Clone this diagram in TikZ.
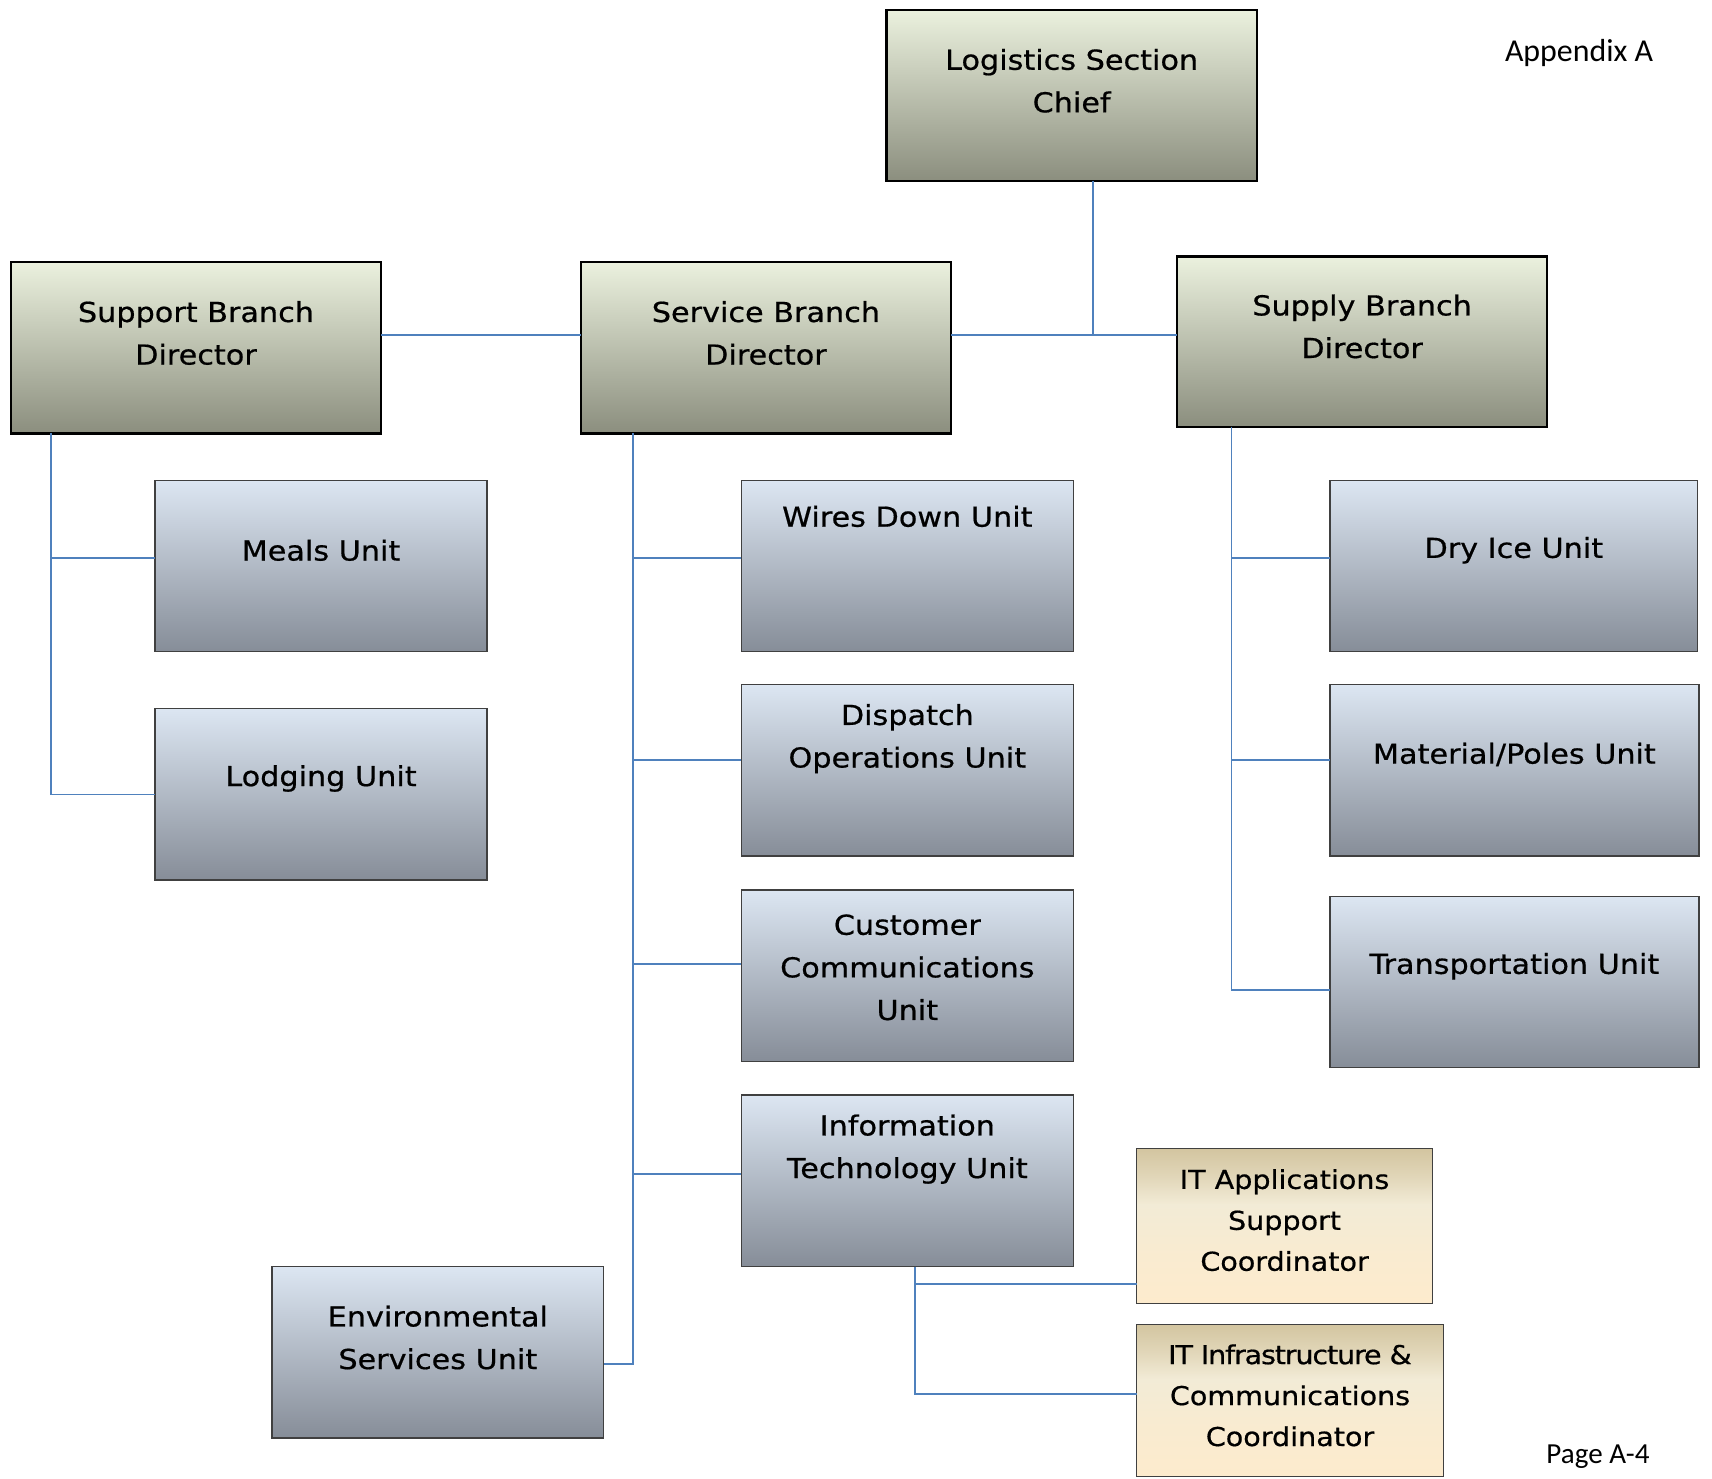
\documentclass[tikz,border=0pt]{standalone}
\usepackage{fontspec}
\setmainfont{DejaVu Sans}[FakeBold=0.6, FakeStretch=1.1]
\newfontfamily\notefont{Carlito}
\definecolor{linkblue}{HTML}{4F81BD}
\definecolor{headtop}{HTML}{EBF1DE}
\definecolor{headbot}{HTML}{8B8E7E}
\definecolor{unittop}{HTML}{DCE6F2}
\definecolor{unitbot}{HTML}{868D98}
\definecolor{coordtop}{HTML}{D3C5A0}
\definecolor{coordmid}{HTML}{F2EBD6}
\definecolor{coordbot}{HTML}{FDEBCD}
\definecolor{unitedge}{HTML}{404040}
% tan fill of the coordinator boxes: dark at the top, light from a third down
\pgfdeclareverticalshading{coordshade}{100bp}{color(0bp)=(coordbot); color(25bp)=(coordbot); color(42bp)=(coordbot!60!coordmid); color(57bp)=(coordmid); color(66bp)=(coordtop!55!coordmid); color(75bp)=(coordtop); color(100bp)=(coordtop)}
\tikzset{
  headbox/.style={rectangle, inner sep=0pt, outer sep=0pt, draw=black, line width=1pt,
    top color=headtop, bottom color=headbot, minimum width=169.5pt, minimum height=78.5pt},
  unitbox/.style={rectangle, inner sep=0pt, outer sep=0pt, draw=unitedge, line width=0.6pt,
    top color=unittop, bottom color=unitbot, minimum width=152pt, minimum height=78.5pt},
  coordbox/.style={rectangle, inner sep=0pt, outer sep=0pt, draw=unitedge, line width=0.6pt,
    shading=coordshade},
  boxtext/.style={align=center, font=\fontsize{12.6}{19.5}\selectfont, inner sep=0pt},
  coordtext/.style={align=center, font=\fontsize{11.9}{18.75}\selectfont, inner sep=0pt},
  link/.style={draw=linkblue, line width=0.75pt},
}
\begin{document}
\begin{tikzpicture}[x=0.5pt, y=-0.5pt]
\useasboundingbox[fill=white] (0,0) rectangle (1568,1354);

% top level
\node[headbox] (chief) at (981.5,87.5) {};
\node[boxtext] (chiefT) at (981.5,74) {Logistics Section\\Chief};

% branch directors
\node[headbox] (support) at (179.5,318.5) {};
\node[boxtext] (supportT) at (179.5,305) {Support Branch\\Director};
\node[headbox] (service) at (701.5,318.5) {};
\node[boxtext] (serviceT) at (701.5,305) {Service Branch\\Director};
\node[headbox, minimum height=78pt] (supply) at (1247.5,313) {};
\node[boxtext] (supplyT) at (1247.5,299) {Supply Branch\\Director};

% support branch units
\node[unitbox] (meals) at (294,518.5) {};
\node[boxtext] (mealsT) at (294,504) {Meals Unit};
\node[unitbox] (lodging) at (294,727.5) {};
\node[boxtext] (lodgingT) at (294,713) {Lodging Unit};

% service branch units
\node[unitbox] (wires) at (831,518.5) {};
\node[boxtext] (wiresT) at (831,473) {Wires Down Unit};
\node[unitbox] (dispatch) at (831,705.5) {};
\node[boxtext] (dispatchT) at (831,676.5) {Dispatch\\Operations Unit};
\node[unitbox] (customer) at (831,893.5) {};
\node[boxtext] (customerT) at (831,886) {Customer\\Communications\\Unit};
\node[unitbox] (infotech) at (831,1081.5) {};
\node[boxtext] (infotechT) at (831,1052.5) {Information\\Technology Unit};
\node[unitbox] (environ) at (401,1238.5) {};
\node[boxtext] (environT) at (401,1225) {Environmental\\Services Unit};

% supply branch units
\node[unitbox, minimum width=168.5pt] (dryice) at (1386.5,518.5) {};
\node[boxtext] (dryiceT) at (1386.5,504) {Dry Ice Unit};
\node[unitbox, minimum width=169pt] (material) at (1387,705.5) {};
\node[boxtext] (materialT) at (1387,691) {Material/Poles Unit};
\node[unitbox, minimum width=169pt] (transport) at (1387,899.5) {};
\node[boxtext] (transportT) at (1387,885) {Transportation Unit};

% IT coordinators
\node[coordbox, minimum width=135.5pt, minimum height=71pt] (itapps) at (1176.5,1123) {};
\node[coordtext] (itappsT) at (1176.5,1117.5) {IT Applications\\Support\\Coordinator};
\node[coordbox, minimum width=140.5pt, minimum height=69.5pt] (itinfra) at (1181.5,1282.5) {};
\node[coordtext] (itinfraT) at (1181.5,1278) {{\addfontfeature{LetterSpace=-4.4}IT Infrastructure \&}\\Communications\\Coordinator};

% page notes
\node[font=\notefont\fontsize{14.6}{16}\selectfont, anchor=base west, inner sep=0pt] (appx) at (1378,56.5) {Appendix A};
\node[font=\notefont\fontsize{13.3}{16}\selectfont, anchor=base west, inner sep=0pt] (pageno) at (1416,1340) {Page A-4};

% connectors: chief to branch bus
\coordinate (bus) at ([xshift=9.75pt, yshift=5.75pt]service.east -| chief.south);
\draw[link] (chief.south -| bus) -- (bus);
\draw[link] ([yshift=5.75pt]support.east) -- ([yshift=5.75pt]service.west);
\draw[link] ([yshift=5.75pt]service.east) -- ([yshift=3pt]supply.west);

% support branch
\coordinate (sspine) at ([xshift=18.5pt]support.south west);
\draw[link] (sspine) |- ([yshift=3.75pt]meals.west);
\draw[link] (sspine) |- (lodging.west);

% service branch
\coordinate (vspine) at ([xshift=24pt]service.south west);
\draw[link] (vspine) |- ([yshift=3.75pt]wires.west);
\draw[link] (vspine) |- ([yshift=4.75pt]dispatch.west);
\draw[link] (vspine) |- ([yshift=5.25pt]customer.west);
\draw[link] (vspine) |- ([yshift=3.25pt]infotech.west);
\draw[link] (vspine) |- ([yshift=-5.25pt]environ.east);

% supply branch
\coordinate (pspine) at ([xshift=25pt]supply.south west);
\draw[link] (pspine) |- ([yshift=3.75pt]dryice.west);
\draw[link] (pspine) |- ([yshift=4.75pt]material.west);
\draw[link] (pspine) |- ([yshift=-3.75pt]transport.west);

% IT unit coordinators
\coordinate (ispine) at ([xshift=3.5pt]infotech.south);
\draw[link] (ispine) |- ([yshift=-26.5pt]itapps.west);
\draw[link] (ispine) |- ([yshift=2.75pt]itinfra.west);
\end{tikzpicture}
\end{document}
